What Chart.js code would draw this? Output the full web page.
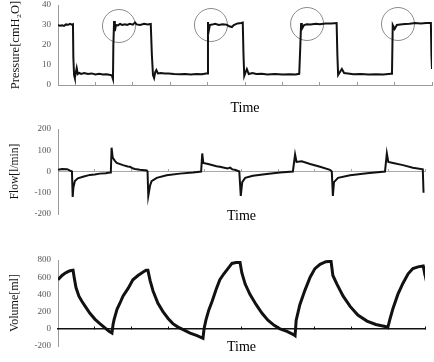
<!DOCTYPE html>
<html><head><meta charset="utf-8">
<script src="https://cdn.jsdelivr.net/npm/chart.js@4"></script>
<style>
html,body{margin:0;padding:0;background:#fff;}
body{width:434px;height:362px;position:relative;overflow:hidden;}
canvas{position:absolute;left:0;}
</style></head><body>
<canvas id="c1" width="434" height="120" style="top:0"></canvas>
<canvas id="c2" width="434" height="110" style="top:120px"></canvas>
<canvas id="c3" width="434" height="122" style="top:240px"></canvas>
<script>
// ---- data (time in s, 0..10) ----
const timeTicks = [0,1,2,3,4,5,6,7,8,9,10];
const pressureTicks = [0,10,20,30,40];
const flowTicks = [-200,-100,0,100,200];
const volumeTicks = [-200,0,200,400,600,800];

const pressureSamples = [
[0,30],[0.05,29.6],[0.11,29.8],[0.16,29.5],[0.21,30.3],[0.27,30.1],[0.32,30.6],[0.37,30.2],[0.40,30.4],
[0.41,14],[0.43,5],[0.45,3.5],[0.48,6.5],[0.5,8.5],[0.53,5.5],[0.57,6],[0.62,5.5],[0.7,6],[0.8,5.5],[0.9,5.8],[1.0,5.3],[1.1,5.6],[1.2,5.2],[1.3,5.4],[1.4,5],[1.44,4.8],[1.47,3],
[1.48,20],[1.5,32],[1.52,27],[1.55,30],[1.6,29.8],[1.66,30.5],[1.72,30],[1.79,30.4],[1.85,30],[1.92,30.6],[2.0,30.2],[2.06,31.3],[2.1,30.3],[2.2,30],[2.3,30.6],[2.4,30.3],[2.48,30.5],
[2.51,15],[2.54,5],[2.57,3.5],[2.6,6.5],[2.63,7.5],[2.67,5.8],[2.75,6],[2.85,5.7],[2.95,5.8],[3.1,5.5],[3.25,5.4],[3.4,5.5],[3.55,5.3],[3.7,5.5],[3.85,5.4],[3.96,5.8],[3.99,5.8],
[4.01,31.5],[4.03,27],[4.06,30],[4.12,30.2],[4.2,30.6],[4.3,30],[4.4,30.4],[4.5,30.2],[4.58,29.4],[4.65,29],[4.7,30],[4.8,30.8],[4.9,31],[4.94,31.2],
[4.96,15],[4.98,4.5],[5.02,6.5],[5.05,8],[5.1,5.5],[5.2,6],[5.3,5.5],[5.45,5.6],[5.6,5.3],[5.8,5.5],[6.0,5.2],[6.2,5.4],[6.35,5.3],[6.45,5.6],[6.47,5.6],
[6.48,20],[6.5,31],[6.52,28],[6.58,30],[6.65,30.4],[6.75,30.2],[6.9,30.6],[7.0,30.4],[7.15,30.8],[7.3,30.7],[7.45,31],
[7.47,15],[7.49,5],[7.54,6.5],[7.59,8],[7.65,6],[7.75,5.8],[7.9,5.4],[8.1,5.5],[8.3,5.3],[8.5,5.4],[8.7,5.3],[8.9,5.6],[8.93,5.6],
[8.95,30],[9.0,28],[9.06,30],[9.15,30.3],[9.28,30.5],[9.4,30.6],[9.55,31],[9.7,30.8],[9.85,31],[9.97,31],
[9.985,15],[10,8]
];
const pressureCircles = [[1.63,29.5],[4.09,30],[6.66,30.5],[9.09,30.5]];

const flowSamples = [
[0,8],[0.11,12],[0.25,11],[0.33,4],[0.38,0],[0.40,-120],[0.42,-75],[0.46,-45],[0.54,-32],[0.68,-25],[0.87,-16],[1.0,-14],[1.14,-10],[1.3,-8],[1.42,-5],[1.44,0],
[1.46,112],[1.49,65],[1.55,50],[1.6,40],[1.77,30],[1.9,24],[1.96,22],[2.05,14],[2.10,12],[2.23,8],[2.42,5],[2.44,0],
[2.46,-115],[2.51,-65],[2.55,-45],[2.69,-30],[2.96,-18],[3.32,-10],[3.68,-5],[3.90,0],
[3.93,85],[3.96,40],[4.09,35],[4.32,25],[4.41,22],[4.62,14],[4.69,18],[4.75,10],[4.82,8],[4.94,0],
[4.98,-115],[5.02,-50],[5.10,-30],[5.31,-20],[5.69,-12],[6.05,-5],[6.40,0],
[6.46,80],[6.50,45],[6.64,48],[6.87,35],[7.14,22],[7.41,8],[7.46,0],
[7.49,-115],[7.52,-50],[7.63,-30],[7.96,-18],[8.42,-8],[8.91,0],
[8.96,85],[9.00,45],[9.13,40],[9.40,30],[9.67,18],[9.94,10],[9.96,-100]
];

const volumeSamples = [
[0,570],[0.11,620],[0.19,645],[0.27,665],[0.33,675],[0.41,680],[0.44,600],[0.49,480],[0.57,380],[0.65,320],[0.76,250],[0.87,180],[1.01,110],[1.14,60],[1.28,10],[1.39,-30],[1.47,-50],
[1.50,50],[1.53,110],[1.61,230],[1.69,300],[1.77,380],[1.91,470],[2.04,570],[2.18,620],[2.32,660],[2.40,680],[2.45,680],
[2.51,560],[2.59,440],[2.72,300],[2.86,200],[3.00,120],[3.13,60],[3.27,20],[3.41,-10],[3.60,-50],[3.79,-80],[3.95,-110],
[3.98,0],[4.03,100],[4.11,220],[4.20,320],[4.31,460],[4.41,570],[4.52,640],[4.63,700],[4.74,760],[4.85,770],[4.96,770],
[5.01,650],[5.10,520],[5.23,400],[5.40,280],[5.56,180],[5.72,100],[5.89,40],[6.05,0],[6.24,-30],[6.43,-70],[6.46,-80],
[6.49,100],[6.59,280],[6.73,450],[6.87,600],[7.00,700],[7.14,750],[7.30,780],[7.44,785],
[7.49,620],[7.60,520],[7.77,380],[7.96,260],[8.17,160],[8.42,90],[8.66,50],[8.88,30],[8.99,20],
[9.05,120],[9.13,240],[9.26,400],[9.40,530],[9.54,640],[9.67,700],[9.81,720],[9.95,730],[9.97,690],[10.0,620]
];

// ---- rendering ----
const SERIF = "'Liberation Serif','Times New Roman',serif";
const toXY = a => a.map(p => ({x:p[0], y:p[1]}));

function makeChart(id, cfg){
  const scales = {
    x: {
      type:'linear', min:0, max:10, position:'bottom',
      afterBuildTicks: s => { s.ticks = timeTicks.map(v=>({value:v})); },
      border:{display:cfg.bottomAxis, color:'#9a9a9a', width:1},
      grid:{display:cfg.bottomAxis, drawOnChartArea:false, drawTicks:true, tickLength:-3, color:'#9a9a9a'},
      ticks:{display:false},
      title:{display:true, text:'Time', color:'#000', font:{family:SERIF, size:14}, padding:{top:0,bottom:cfg.titlePad}},
      afterFit: s => { s.height = cfg.xH; }
    },
    y: {
      min:cfg.ymin, max:cfg.ymax,
      afterBuildTicks: s => { s.ticks = cfg.yTicks.map(v=>({value:v})); },
      border:{display:true, color:'#9a9a9a', width:1},
      grid:{display:false, drawTicks:true, tickLength:7},
      ticks:{color:'#555', padding:0, font:{family:SERIF, size:9, lineHeight:1}},
      title:{display:true, text:cfg.ytitle, color:'#111', font:{family:SERIF, size:cfg.ytSize}, padding:{top:8,bottom:0}},
      afterFit: s => { s.width = 58; }
    }
  };
  if (cfg.zeroAxis) {
    scales.x2 = {
      type:'linear', axis:'x', min:0, max:10, position:{y:0},
      afterBuildTicks: s => { s.ticks = timeTicks.map(v=>({value:v})); },
      border:{display:true, color:cfg.zeroColor, width:cfg.zeroWidth},
      grid:{display:true, drawOnChartArea:false, drawTicks:true, tickLength:-3, color:cfg.zeroColor},
      ticks:{display:false}
    };
  }
  const datasets = [{
    data: toXY(cfg.samples), xAxisID:'x', yAxisID:'y',
    borderColor:'#111', borderWidth:cfg.lw, pointRadius:0, tension:0, fill:false
  }];
  if (cfg.circles) {
    datasets.push({
      data: toXY(cfg.circles), xAxisID:'x', yAxisID:'y', showLine:false,
      pointRadius:16.5, pointHoverRadius:16.5, pointBorderWidth:1,
      pointBorderColor:'#8a8a8a', pointBackgroundColor:'rgba(0,0,0,0)'
    });
  }
  return new Chart(document.getElementById(id), {
    type:'line',
    data:{datasets},
    options:{
      responsive:false, animation:false,
      layout:{autoPadding:false, padding:{top:cfg.padTop, right:cfg.padRight, left:0, bottom:0}},
      plugins:{legend:{display:false}, tooltip:{enabled:false}},
      scales
    }
  });
}

makeChart('c1', {samples:pressureSamples, circles:pressureCircles, ymin:0, ymax:40, yTicks:pressureTicks,
  ytitle:'Pressure[cmH\u2082O]', ytSize:12.5, padTop:5, padRight:2, xH:35, titlePad:3.6, bottomAxis:true, zeroAxis:false, lw:2});
makeChart('c2', {samples:flowSamples, ymin:-200, ymax:200, yTicks:flowTicks,
  ytitle:'Flow[l/min]', ytSize:11.5, padTop:9, padRight:9, xH:16, titlePad:5.6, bottomAxis:false, zeroAxis:true, zeroColor:'#a8a8a8', zeroWidth:1, lw:2});
makeChart('c3', {samples:volumeSamples, ymin:-200, ymax:800, yTicks:volumeTicks,
  ytitle:'Volume[ml]', ytSize:12, padTop:20, padRight:9, xH:16, titlePad:6.6, bottomAxis:false, zeroAxis:true, zeroColor:'#111', zeroWidth:1.5, lw:3});
</script>
</body></html>
